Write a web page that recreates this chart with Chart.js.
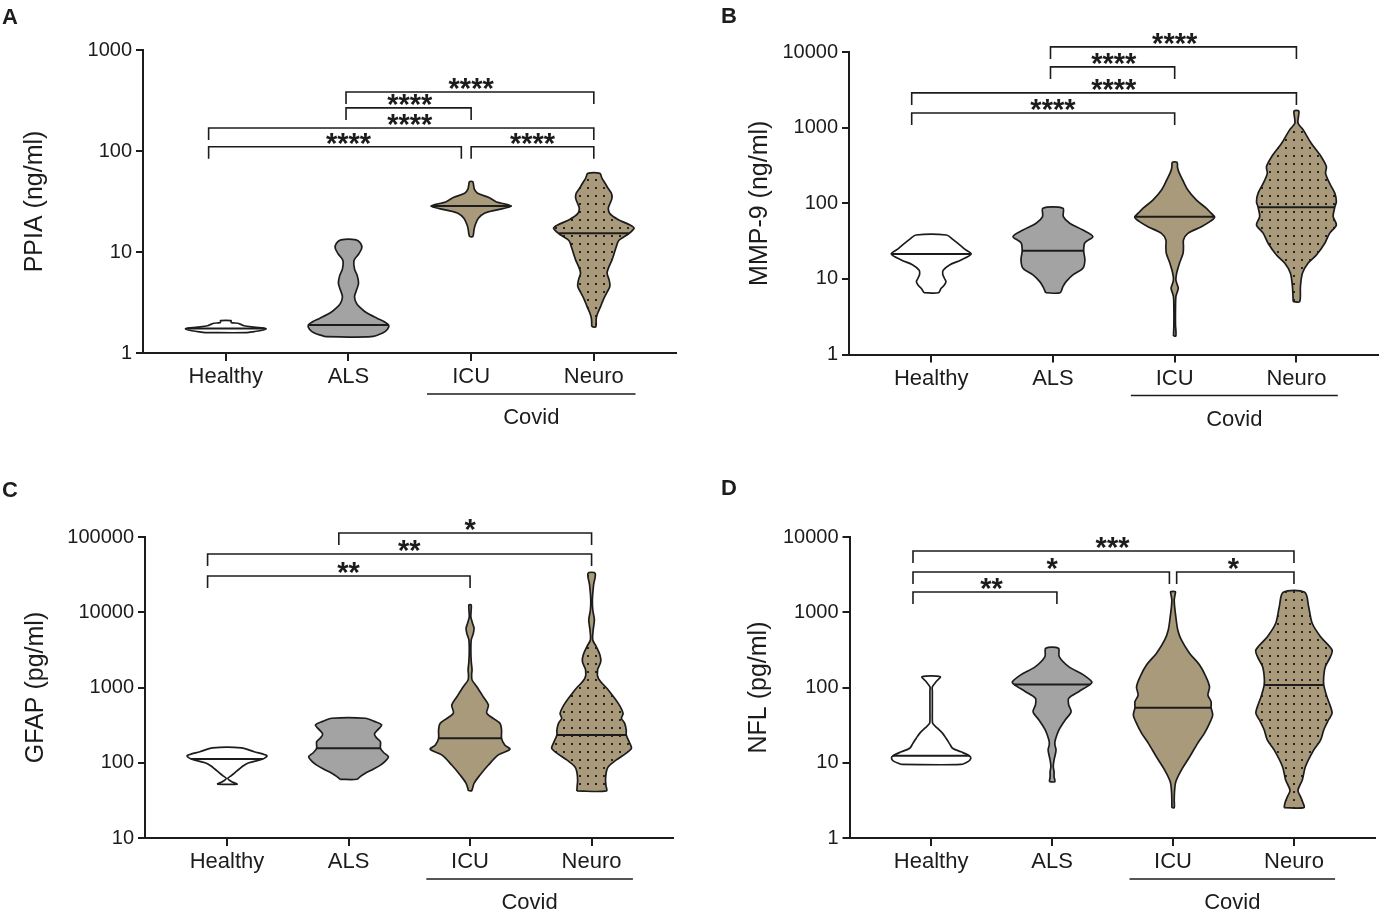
<!DOCTYPE html>
<html>
<head>
<meta charset="utf-8">
<script src="https://cdn.jsdelivr.net/npm/chart.js"></script>
<style>
  body { margin: 0; background: #fff; }
  #wrap { position: relative; width: 1382px; height: 916px; overflow: hidden; }
  canvas { position: absolute; }
</style>
</head>
<body>
<div id="wrap">
  <canvas id="pA" width="690" height="460" style="left:0;top:0"></canvas>
  <canvas id="pB" width="692" height="460" style="left:690px;top:0"></canvas>
  <canvas id="pC" width="690" height="456" style="left:0;top:460px"></canvas>
  <canvas id="pD" width="692" height="456" style="left:690px;top:460px"></canvas>
</div>
<script>
const groups = ['Healthy', 'ALS', 'ICU', 'Neuro'];

// violin outlines, bottom to top: [value, relative width]
// A - PPIA (ng/ml)
const ppiaHealthy = [[1.59,0.52],[1.63,0.7],[1.68,0.9],[1.74,1.0],[1.8,0.7],[1.86,0.45],[1.93,0.36],[1.97,0.3],[2.0,0.14],[2.05,0.13],[2.09,0.13]];
const ppiaAls = [[1.45,0.56],[1.58,0.85],[1.72,0.97],[1.89,1.0],[2.05,0.88],[2.2,0.72],[2.5,0.45],[2.8,0.3],[3.1,0.2],[3.6,0.15],[4.2,0.2],[4.9,0.25],[5.8,0.22],[6.8,0.15],[8.3,0.14],[9.5,0.25],[10.9,0.33],[12.2,0.3],[13.2,0.19]];
const ppiaIcu = [[14.2,0.04],[15.3,0.06],[16.5,0.07],[18.5,0.1],[21.6,0.18],[24.2,0.33],[26,0.62],[28.5,1.0],[31.5,0.62],[34.8,0.43],[38.1,0.16],[42,0.08],[46,0.06],[49.7,0.04]];
const ppiaNeuro = [[1.82,0.05],[2.2,0.06],[2.5,0.1],[2.9,0.17],[3.4,0.24],[4.0,0.33],[4.6,0.4],[5.3,0.38],[6.2,0.33],[7.2,0.38],[8.3,0.45],[9.5,0.5],[11,0.55],[13,0.62],[15,0.85],[17.2,1.0],[18.5,0.9],[21,0.6],[24,0.4],[27,0.36],[30,0.4],[34,0.45],[38,0.44],[43,0.35],[48,0.28],[54,0.2],[60,0.15]];
const ppiaMedians = [1.75, 1.89, 28.5, 15.3];
const ppiaTicks = [1, 10, 100, 1000];
// [from, to, level, stars]
const ppiaBrackets = [[0.98, 3, 384, '****'], [0.98, 2, 267, '****'], [-0.14, 3, 169, '****'], [-0.14, 1.92, 110, '****'], [2.0, 3, 110, '****']];

// B - MMP-9 (ng/ml)
const mmpHealthy = [[6.56,0.18],[7.5,0.25],[8.3,0.33],[9.2,0.37],[10.2,0.33],[11.5,0.29],[13,0.3],[15.3,0.46],[17.8,0.75],[21.3,1.0],[24.5,0.85],[28,0.72],[33,0.55],[38,0.38]];
const mmpAls = [[6.56,0.18],[7.9,0.25],[9.2,0.33],[11.3,0.5],[13.8,0.75],[17.8,0.8],[23.6,0.77],[30.1,0.8],[36.2,1.0],[44.3,0.75],[54.4,0.42],[66.5,0.26],[86,0.25]];
const mmpIcu = [[1.76,0.03],[2.5,0.02],[3.9,0.02],[5.8,0.03],[6.6,0.06],[7.5,0.09],[8.5,0.06],[9.7,0.03],[11.9,0.05],[16.1,0.12],[21.8,0.21],[27,0.22],[32.7,0.22],[40,0.33],[49,0.67],[58,0.9],[65.3,1.0],[75,0.9],[86,0.79],[111,0.54],[150,0.33],[203,0.2],[262,0.1],[300,0.07],[348,0.06]];
const mmpNeuro = [[5,0.08],[7.9,0.1],[11.9,0.15],[16.1,0.29],[20.7,0.5],[29.6,0.71],[40,0.83],[51.6,1.0],[66.5,0.92],[88.5,0.96],[105,1.0],[136,0.96],[184,0.83],[249,0.73],[305,0.75],[413,0.62],[622,0.37],[933,0.17],[1143,0.04],[1400,0.05],[1663,0.06]];
const mmpMedians = [21.3, 23.6, 66.5, 88.5];
const mmpTicks = [1, 10, 100, 1000, 10000];
const mmpBrackets = [[0.98, 3, 11680, '****'], [0.98, 2, 6350, '****'], [-0.16, 3, 2877, '****'], [-0.16, 2, 1563, '****']];

// C - GFAP (pg/ml)
const gfapHealthy = [[51.8,0.25],[55,0.15],[58.5,0.06],[62,0.02],[67,0.1],[74,0.2],[82,0.3],[92,0.42],[100,0.55],[112,0.9],[124,1.0],[140,0.68],[158,0.36]];
const gfapAls = [[60.3,0.21],[66,0.3],[72.4,0.42],[82,0.62],[93,0.8],[106,0.93],[120,1.0],[137,0.88],[156,0.8],[190,0.8],[215,0.7],[241,0.65],[280,0.75],[318,0.83],[355,0.65],[390,0.42]];
const gfapIcu = [[42.6,0.04],[53.3,0.1],[68.8,0.25],[93.3,0.46],[127,0.71],[151,1.0],[172,0.87],[211,0.79],[272,0.79],[334,0.75],[454,0.42],[585,0.46],[755,0.33],[1026,0.17],[1259,0.05],[1500,0.04],[1710,0.05],[2200,0.03],[3000,0.02],[4280,0.03],[5200,0.08],[6120,0.1],[7200,0.06],[8730,0.02],[12470,0.03]];
const gfapNeuro = [[42.2,0.37],[50,0.36],[59,0.35],[76,0.37],[88.6,0.42],[109,0.62],[134,0.87],[156,1.0],[181,0.96],[234,0.87],[272,0.87],[334,0.83],[390,0.75],[454,0.79],[616,0.67],[926,0.42],[1325,0.17],[1710,0.15],[2200,0.23],[2700,0.21],[3480,0.12],[4280,0.03],[5810,0.04],[7890,0.07],[10720,0.03],[14550,0.02],[23000,0.05],[32960,0.09]];
const gfapMedians = [112, 156, 211, 234];
const gfapTicks = [10, 100, 1000, 10000, 100000];
const gfapBrackets = [[0.92, 3, 113000, '*'], [-0.16, 3, 59400, '**'], [-0.16, 2, 30300, '**']];

// D - NFL (pg/ml)
const nflHealthy = [[9.5,0.75],[10.5,0.95],[11.5,1.0],[12.4,0.96],[14,0.75],[15.6,0.54],[18.1,0.46],[21,0.38],[24.6,0.29],[29,0.15],[33.4,0.04],[37,0.03],[50,0.03],[68,0.03],[90,0.03],[102,0.03],[120,0.13],[139,0.23]];
const nflAls = [[5.6,0.07],[6.5,0.05],[7.6,0.05],[9,0.03],[10.9,0.05],[14.8,0.1],[17.5,0.07],[20,0.08],[27.2,0.17],[37,0.33],[47.7,0.48],[58.5,0.42],[71.8,0.42],[88,0.67],[110,0.96],[119,1.0],[147,0.79],[189,0.42],[257,0.18],[332,0.16]];
const nflIcu = [[2.53,0.03],[3.2,0.03],[4.3,0.04],[5.6,0.07],[8,0.21],[12,0.42],[18.1,0.62],[24.6,0.79],[33.4,0.92],[43.1,1.0],[53.9,0.96],[64.8,0.96],[79.4,0.88],[102,0.92],[139,0.83],[199,0.67],[284,0.42],[428,0.21],[581,0.12],[873,0.07],[1186,0.04],[1455,0.03],[1700,0.05],[1875,0.06]];
const nflNeuro = [[2.53,0.25],[3.0,0.22],[3.5,0.17],[4.3,0.1],[5.9,0.21],[8.9,0.29],[14.8,0.5],[20,0.67],[27.2,0.75],[37,0.87],[45.4,0.96],[60,0.9],[75.5,0.83],[108,0.75],[139,0.75],[189,0.79],[257,0.92],[315,0.96],[473,0.67],[713,0.46],[1186,0.37],[1840,0.27]];
const nflMedians = [12.4, 110, 53.9, 108];
const nflTicks = [1, 10, 100, 1000, 10000];
const nflBrackets = [[-0.15, 3, 6516, '***'], [-0.15, 1.97, 3427, '*'], [2.03, 3, 3427, '*'], [-0.15, 1.04, 1858, '**']];

const INK = '#1c1c1c';
const TAN = '#a89a7b';
const GRAY = '#a3a3a3';
const HALF = 0.328;   // widest violin half-width, in category units
const FONT = '"Liberation Sans", Arial, Helvetica, sans-serif';
Chart.defaults.font.family = FONT;
Chart.defaults.color = INK;

const panels = [
  { el: 'pA', letter: 'A', lx: 2, ly: 24, title: 'PPIA (ng/ml)', yMin: 1, yMax: 1000, ticks: ppiaTicks,
    violins: [ppiaHealthy, ppiaAls, ppiaIcu, ppiaNeuro], medians: ppiaMedians, brackets: ppiaBrackets,
    top: 50, right: 14, axisW: 143, axisBottom: 353, titlePad: 20 },
  { el: 'pB', letter: 'B', lx: 31, ly: 23, title: 'MMP-9 (ng/ml)', yMin: 1, yMax: 10000, ticks: mmpTicks,
    violins: [mmpHealthy, mmpAls, mmpIcu, mmpNeuro], medians: mmpMedians, brackets: mmpBrackets,
    top: 52, right: 4, axisW: 159, axisBottom: 354.5, titlePad: 55 },
  { el: 'pC', letter: 'C', lx: 2, ly: 37, title: 'GFAP (pg/ml)', yMin: 10, yMax: 100000, ticks: gfapTicks,
    violins: [gfapHealthy, gfapAls, gfapIcu, gfapNeuro], medians: gfapMedians, brackets: gfapBrackets,
    top: 77, right: 17, axisW: 145, axisBottom: 378, titlePad: 21 },
  { el: 'pD', letter: 'D', lx: 31, ly: 35, title: 'NFL (pg/ml)', yMin: 1, yMax: 10000, ticks: nflTicks,
    violins: [nflHealthy, nflAls, nflIcu, nflNeuro], medians: nflMedians, brackets: nflBrackets,
    top: 77, right: 7, axisW: 159.5, axisBottom: 378, titlePad: 54 }
];

function dotPattern(ctx) {
  const c = document.createElement('canvas');
  c.width = c.height = 8;
  const g = c.getContext('2d');
  g.fillStyle = TAN;
  g.fillRect(0, 0, 8, 8);
  g.fillStyle = '#2a2418';
  g.fillRect(3, 3, 2, 2);
  return ctx.createPattern(c, 'repeat');
}

function outline(prof, i) {
  const left = prof.map(([v, d]) => ({ x: i - d * HALF, y: v }));
  const right = prof.slice().reverse().map(([v, d]) => ({ x: i + d * HALF, y: v }));
  return [...left, ...right, left[0]];
}

function widthAt(prof, m) {
  const lm = Math.log10(m);
  for (let k = 1; k < prof.length; k++) {
    const [v0, d0] = prof[k - 1], [v1, d1] = prof[k];
    if (m <= v1) {
      const t = (lm - Math.log10(v0)) / (Math.log10(v1) - Math.log10(v0));
      return d0 + (d1 - d0) * Math.max(0, Math.min(1, t));
    }
  }
  return prof[prof.length - 1][1];
}

function annotations(p) {
  return {
    id: 'annot' + p.letter,
    afterDraw(chart) {
      const { ctx, scales: { x, y } } = chart;
      ctx.save();
      ctx.fillStyle = INK;
      ctx.strokeStyle = INK;
      ctx.font = 'bold 22px ' + FONT;
      ctx.textAlign = 'left';
      ctx.textBaseline = 'alphabetic';
      ctx.fillText(p.letter, p.lx, p.ly);

      // significance brackets
      ctx.lineWidth = 1.6;
      ctx.textAlign = 'center';
      ctx.font = 'bold 29px ' + FONT;
      p.brackets.forEach(([a, b, v, stars]) => {
        const x1 = x.getPixelForValue(a), x2 = x.getPixelForValue(b), yy = y.getPixelForValue(v);
        ctx.beginPath();
        ctx.moveTo(x1, yy + 12);
        ctx.lineTo(x1, yy);
        ctx.lineTo(x2, yy);
        ctx.lineTo(x2, yy + 12);
        ctx.stroke();
        const mid = x.getPixelForValue((Math.round(a) + Math.round(b)) / 2);
        ctx.fillText(stars, mid, yy + 6);
      });

      // Covid group line
      const base = y.bottom;
      ctx.beginPath();
      ctx.moveTo(x.getPixelForValue(1.64), base + 41);
      ctx.lineTo(x.getPixelForValue(3.34), base + 41);
      ctx.stroke();
      ctx.font = '22px ' + FONT;
      ctx.textBaseline = 'middle';
      ctx.fillText('Covid', x.getPixelForValue(2.49), base + 65);
      ctx.restore();
    }
  };
}

panels.forEach(p => {
  const canvas = document.getElementById(p.el);
  const ctx = canvas.getContext('2d');
  const fills = ['#ffffff', GRAY, TAN, dotPattern(ctx)];
  const datasets = [];
  // medians first: Chart.js paints dataset 0 last, so these sit on top of the violins
  p.violins.forEach((prof, i) => {
    const hw = widthAt(prof, p.medians[i]) * HALF;
    datasets.push({
      data: [{ x: i - hw, y: p.medians[i] }, { x: i + hw, y: p.medians[i] }],
      showLine: true, fill: false, borderColor: INK, borderWidth: 2, pointRadius: 0
    });
  });
  p.violins.forEach((prof, i) => {
    datasets.push({
      data: outline(prof, i), showLine: true, fill: 'shape', backgroundColor: fills[i],
      borderColor: INK, borderWidth: 1.7, pointRadius: 0, tension: 0.3
    });
  });

  new Chart(ctx, {
    type: 'scatter',
    data: { datasets },
    options: {
      responsive: false,
      animation: false,
      events: [],
      layout: { padding: { left: 0, top: p.top, right: p.right, bottom: 0 } },
      plugins: { legend: { display: false }, tooltip: { enabled: false } },
      scales: {
        x: {
          type: 'linear', min: -0.675, max: 3.67,
          afterBuildTicks: s => { s.ticks = groups.map((g, i) => ({ value: i })); },
          afterFit: s => { s.height = canvas.height - p.axisBottom; },
          ticks: { callback: v => groups[v], font: { size: 22 }, color: INK, padding: 3, maxRotation: 0, autoSkip: false },
          grid: { drawOnChartArea: false, drawTicks: true, tickLength: 8, color: INK, lineWidth: 2 },
          border: { color: INK, width: 2 }
        },
        y: {
          type: 'logarithmic', min: p.yMin, max: p.yMax,
          afterBuildTicks: s => { s.ticks = p.ticks.map(v => ({ value: v })); },
          afterFit: s => { s.width = p.axisW; },
          ticks: { callback: v => String(v), font: { size: 20 }, color: INK, padding: 4, autoSkip: false },
          grid: { drawOnChartArea: false, drawTicks: true, tickLength: 7, color: INK, lineWidth: 2 },
          border: { color: INK, width: 2 },
          title: { display: true, text: p.title, font: { size: 25 }, color: INK, padding: { top: p.titlePad, bottom: 0 } }
        }
      }
    },
    plugins: [annotations(p)]
  });
});
</script>
</body>
</html>
